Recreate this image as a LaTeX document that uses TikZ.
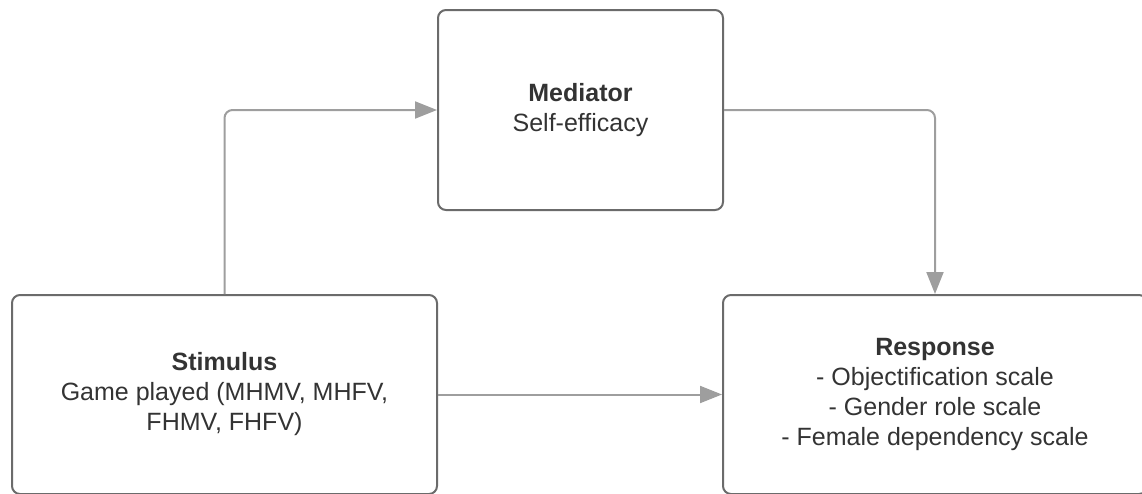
\documentclass[tikz,border=0pt]{standalone}
\usepackage{fontspec}
\setmainfont{Liberation Sans}
\usetikzlibrary{arrows.meta}
\definecolor{boxline}{HTML}{6B6B6B}
\definecolor{linkline}{HTML}{9E9E9E}
\definecolor{textgray}{HTML}{333333}
\begin{document}
\begin{tikzpicture}[x=1pt, y=-1pt,
    box/.style={draw=boxline, line width=2pt, rounded corners=8pt, align=center,
        text=textgray, font=\fontsize{25}{30}\selectfont, inner sep=0pt},
    link/.style={draw=linkline, line width=2pt, rounded corners=8pt,
        -{Triangle[length=22pt, width=17pt]}}]
    \useasboundingbox (0,0) rectangle (1142,493);
    \node[box, minimum width=425pt, minimum height=199pt] (stimulus) at (224.5,394.5)
        {\textbf{Stimulus}\\Game played (MHMV, MHFV,\\FHMV, FHFV)};
    \node[box, minimum width=285pt, minimum height=200pt] (mediator) at (580.5,110)
        {\textbf{Mediator}\\Self-efficacy};
    \node[box, minimum width=424pt, minimum height=199pt] (response) at (935,394.5)
        {\textbf{Response}\\- Objectification scale\\- Gender role scale\\- Female dependency scale};
    \draw[link] (stimulus.north) |- (mediator.west);
    \draw[link] (mediator.east) -| (response.north);
    \draw[link] (stimulus.east) -- (response.west);
\end{tikzpicture}
\end{document}
